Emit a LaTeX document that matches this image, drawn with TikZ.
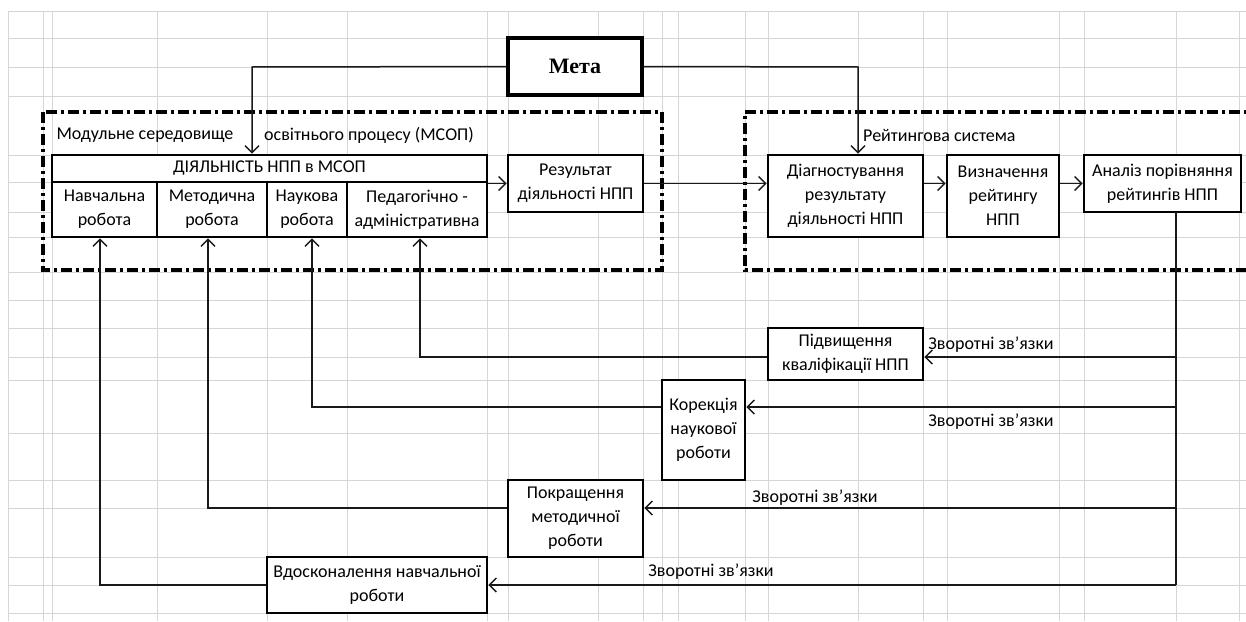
\documentclass[tikz,border=0pt]{standalone}
\usepackage{fontspec}
\setmainfont{Carlito}
\newfontfamily\metafont{Liberation Serif}
\usetikzlibrary{arrows.meta,calc}
\definecolor{gridc}{RGB}{214,214,214}
\begin{document}
\begin{tikzpicture}[x=1pt,y=-1pt,
  box/.style={draw=black, line width=2.8pt, fill=white, align=center, inner sep=0pt, font=\fontsize{18}{24}\selectfont},
  lbl/.style={inner sep=0pt, font=\fontsize{18}{24}\selectfont},
  arr/.style={draw=black!90, line width=1.5pt, -{Straight Barb[length=7pt,width=14pt,line width=1.4pt]}},
  conn/.style={draw=black!90, line width=1.5pt},
  frame/.style={line width=3.2pt, dash pattern=on 11pt off 4pt on 3pt off 4pt},
  gridl/.style={draw=gridc, line width=1pt}]
\useasboundingbox (0,0) rectangle (1246,621);
\clip (0,0) rectangle (1246,621);
\fill[white] (0,0) rectangle (1246,621);
% spreadsheet grid
\foreach \x in {8,43,52,157,267,347,487,508,598,643,662,678,745,768,858,923,947,1059,1084,1176,1239}
  \draw[gridl] (\x,11) -- (\x,621);
\foreach \y in {11,38,67,96,155,182,212,237,272,300,328,357,380,433,480,508,557,585,613}
  \draw[gridl] (8,\y) -- (1246,\y);
% frames
\draw[frame] (43,112) rectangle (662,270);
\draw[frame] (1262,112) -- (745,112) -- (745,270) -- (1262,270);
\node[lbl] (lmod1) at (145,135) {Модульне середовище};
\node[lbl] (lmod2) at (369,135) {освітнього процесу (МСОП)};
\node[lbl, anchor=west] (lrat) at (863,135) {Рейтингова система};
% boxes
\node[box, line width=3.2pt, minimum width=134pt, minimum height=57pt] (meta) at (575,66.5) {\metafont\bfseries\fontsize{22}{26}\selectfont Мета};
\node[box, minimum width=435pt, minimum height=27pt] (dial) at (269.5,168.5) {ДІЯЛЬНІСТЬ НПП в МСОП};
\node[box, minimum width=105pt, minimum height=55pt] (navch) at (104.5,209.5) {Навчальна\\робота};
\node[box, minimum width=110pt, minimum height=55pt] (metod) at (212,209.5) {Методична\\робота};
\node[box, minimum width=80pt, minimum height=55pt] (nauk) at (307,209.5) {Наукова\\робота};
\node[box, minimum width=140pt, minimum height=55pt] (ped) at (417,209.5) {Педагогічно -\\адміністративна};
\node[box, minimum width=135pt, minimum height=57pt] (rez) at (575.5,183.5) {Результат\\діяльності НПП};
\node[box, minimum width=155pt, minimum height=82pt] (diag) at (845.5,196) {Діагностування\\результату\\діяльності НПП};
\node[box, minimum width=112pt, minimum height=82pt] (vyzn) at (1003,196) {Визначення\\рейтингу\\НПП};
\node[box, minimum width=157pt, minimum height=57pt] (anal) at (1162.5,183.5) {Аналіз порівняння\\рейтингів НПП};
\node[box, minimum width=155pt, minimum height=52pt] (pidv) at (845.5,354) {Підвищення\\кваліфікації НПП};
\node[box, minimum width=83pt, minimum height=100pt] (kor) at (703.5,430) {Корекція\\наукової\\роботи};
\node[box, minimum width=135pt, minimum height=77pt] (pokr) at (575.5,518.5) {Покращення\\методичної\\роботи};
\node[box, minimum width=220pt, minimum height=56pt] (vdos) at (377,585) {Вдосконалення навчальної\\роботи};
% top connectors
\coordinate (mL) at (252,67);
\coordinate (mR) at (858,67);
\draw[arr] (meta.west) -- (mL) -- (mL |- dial.north);
\draw[arr] (meta.east) -- (mR) -- (mR |- diag.north);
\draw[arr] (dial.south east) -- (dial.south east -| rez.west);
\draw[arr] (rez.east) -- (rez.east -| diag.west);
\draw[arr] (rez.east -| diag.east) -- (rez.east -| vyzn.west);
\draw[arr] (rez.east -| vyzn.east) -- (rez.east -| anal.west);
% feedback
\coordinate (fbT) at (1176,212);
\coordinate (f1) at (1176,357);
\coordinate (f2) at (1176,407);
\coordinate (f3) at (1176,508);
\coordinate (f4) at (1176,585);
\draw[conn] (fbT) -- (f4);
\draw[arr] (f1) -- (f1 -| pidv.east);
\draw[arr] (f2) -- (f2 -| kor.east);
\draw[arr] (f3) -- (f3 -| pokr.east);
\draw[arr] (f4) -- (f4 -| vdos.east);
\coordinate (u1) at (420,357);
\coordinate (u2) at (312,407);
\coordinate (u3) at (208,508);
\coordinate (u4) at (100,585);
\draw[arr] (f1 -| pidv.west) -- (u1) -- (u1 |- ped.south);
\draw[arr] (f2 -| kor.west) -- (u2) -- (u2 |- nauk.south);
\draw[arr] (f3 -| pokr.west) -- (u3) -- (u3 |- metod.south);
\draw[arr] (f4 -| vdos.west) -- (u4) -- (u4 |- navch.south);
% labels
\node[lbl] (z1) at (991,345) {Зворотні зв’язки};
\node[lbl] (z2) at (991,422) {Зворотні зв’язки};
\node[lbl] (z3) at (815,498) {Зворотні зв’язки};
\node[lbl] (z4) at (711,572) {Зворотні зв’язки};
\end{tikzpicture}
\end{document}
